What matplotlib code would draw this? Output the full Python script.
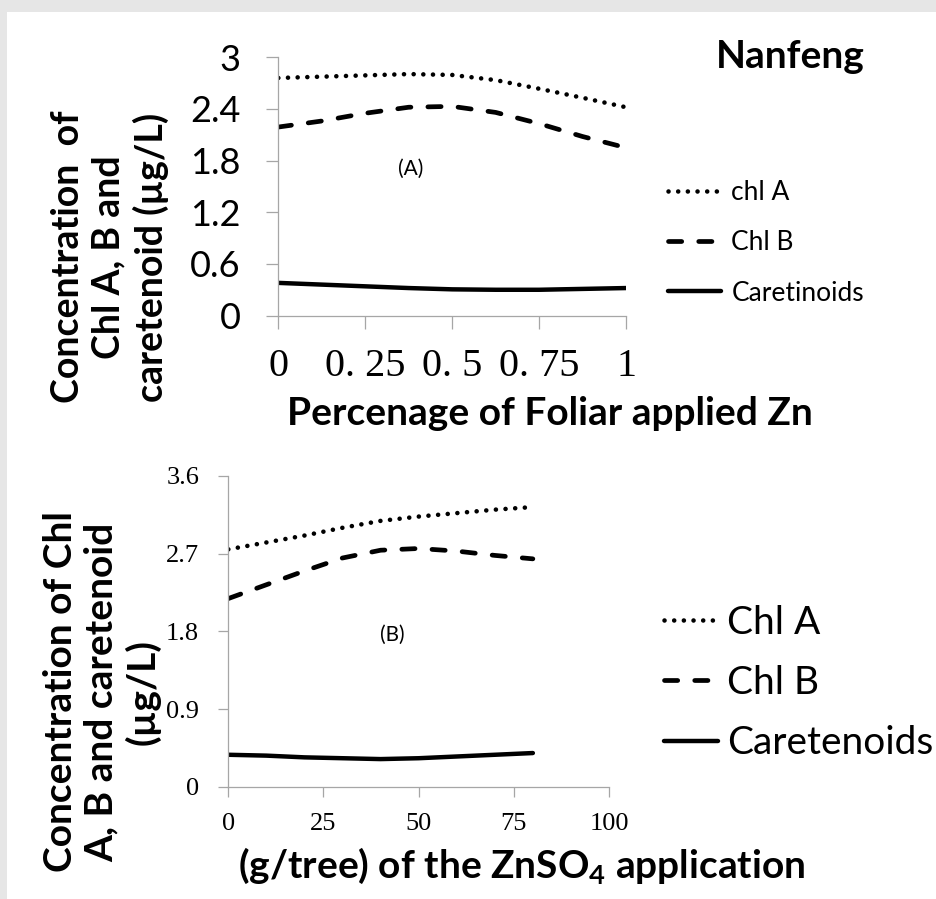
import matplotlib
matplotlib.use("Agg")
import matplotlib.pyplot as plt
from matplotlib.patches import Rectangle

plt.rcParams['font.family'] = ['Lato', 'DejaVu Sans']
plt.rcParams['mathtext.fontset'] = 'custom'
plt.rcParams['mathtext.rm'] = 'Lato'
plt.rcParams['mathtext.bf'] = 'Lato:bold'

# panel A: percentage of foliar applied Zn
pct_zn = [0, 0.125, 0.25, 0.375, 0.5, 0.625, 0.75, 0.875, 1]
chl_a_A = [2.76, 2.775, 2.79, 2.805, 2.795, 2.735, 2.635, 2.53, 2.42]
chl_b_A = [2.19, 2.26, 2.35, 2.42, 2.43, 2.36, 2.23, 2.08, 1.95]
car_A = [0.38, 0.36, 0.34, 0.32, 0.305, 0.30, 0.30, 0.31, 0.32]
ticks_A_x = [0, 0.25, 0.5, 0.75, 1]
ticklabels_A_x = ["0", "0. 25", "0. 5", "0. 75", "1"]
ticks_A_y = [0, 0.6, 1.2, 1.8, 2.4, 3]
ticklabels_A_y = ["0", "0.6", "1.2", "1.8", "2.4", "3"]
labels_A = ["chl A", "Chl B", "Caretinoids"]

# panel B: g/tree of ZnSO4
g_tree = [0, 10, 20, 30, 40, 50, 60, 70, 80]
chl_a_B = [2.75, 2.83, 2.91, 3.00, 3.08, 3.13, 3.17, 3.21, 3.24]
chl_b_B = [2.18, 2.34, 2.50, 2.65, 2.74, 2.76, 2.73, 2.68, 2.64]
car_B = [0.37, 0.36, 0.34, 0.33, 0.32, 0.33, 0.35, 0.37, 0.39]
ticks_B_x = [0, 25, 50, 75, 100]
ticks_B_y = [0, 0.9, 1.8, 2.7, 3.6]
labels_B = ["Chl A", "Chl B", "Caretenoids"]

W, H = 937, 899
fig = plt.figure(figsize=(W / 100, H / 100), dpi=100)
fig.patch.set_facecolor('#e6e6e6')
fig.patches.append(Rectangle((7 / W, 0), 1 - 7 / W, 1 - 12 / H, transform=fig.transFigure,
                             facecolor='white', edgecolor='none', zorder=-1))

dot = dict(color='black', lw=3.3, linestyle=(0, (0.01, 2.1)), dash_capstyle='round')
dash = dict(color='black', lw=3.4, linestyle=(0, (2.8, 3.6)), dash_capstyle='round')
solid = dict(color='black', lw=3.2, solid_capstyle='round')
serif = 'Liberation Serif'


def style_axes(ax):
    for s in ['top', 'right']:
        ax.spines[s].set_visible(False)
    for s in ['left', 'bottom']:
        ax.spines[s].set_color('#a6a6a6')
        ax.spines[s].set_linewidth(0.9)
    ax.tick_params(color='#a6a6a6', width=0.9, direction='out')


# ---- panel A
axA = fig.add_axes([278.3 / W, 1 - 315.6 / H, (626 - 278.3) / W, (315.6 - 57.3) / H])
la, = axA.plot(pct_zn, chl_a_A, **dot)
lb, = axA.plot(pct_zn, chl_b_A, **dash)
lc, = axA.plot(pct_zn, car_A, **solid)
axA.set_xlim(0, 1)
axA.set_ylim(0, 3)
style_axes(axA)
axA.tick_params(length=9)
axA.set_xticks(ticks_A_x)
axA.set_xticklabels(ticklabels_A_x, fontfamily=serif, fontsize=29)
axA.set_yticks(ticks_A_y)
axA.set_yticklabels(ticklabels_A_y, fontsize=26)
axA.tick_params(axis='x', pad=14)
axA.tick_params(axis='y', pad=18)
axA.text(0.38, 0.57, "(A)", transform=axA.transAxes, fontsize=15, ha='center', va='center')
axA.legend([la, lb, lc], labels_A, loc='center left', bbox_to_anchor=(668 / W, 1 - 243 / H),
           bbox_transform=fig.transFigure, frameon=False, fontsize=19, handlelength=2.0,
           handletextpad=0.4, labelspacing=0.95, borderpad=0, borderaxespad=0)

fig.text(790 / W, 1 - 57 / H, "Nanfeng", fontsize=28, fontweight='bold', ha='center', va='center')
fig.text(550 / W, 1 - 413 / H, "Percenage of Foliar applied Zn", fontsize=28, fontweight='bold',
         ha='center', va='center')
fig.text(110 / W, 1 - 257 / H, "Concentration  of\nChl A, B and\ncaretenoid (\u00b5g/L)", fontsize=27,
         fontweight='bold', rotation=90, ha='center', va='center', multialignment='center',
         linespacing=1.25)

# ---- panel B
axB = fig.add_axes([228.3 / W, 1 - 786.7 / H, (609 - 228.3) / W, (786.7 - 476) / H])
ma, = axB.plot(g_tree, chl_a_B, **dot)
mb, = axB.plot(g_tree, chl_b_B, **dash)
mc, = axB.plot(g_tree, car_B, **solid)
axB.set_xlim(0, 100)
axB.set_ylim(0, 3.6)
style_axes(axB)
axB.tick_params(length=7)
axB.set_xticks(ticks_B_x)
axB.set_xticklabels([str(t) for t in ticks_B_x], fontfamily=serif, fontsize=19)
axB.set_yticks(ticks_B_y)
axB.set_yticklabels([str(t) for t in ticks_B_y], fontfamily=serif, fontsize=19)
axB.tick_params(axis='x', pad=12)
axB.tick_params(axis='y', pad=14)
axB.text(0.43, 0.49, "(B)", transform=axB.transAxes, fontsize=15, ha='center', va='center')
axB.legend([ma, mb, mc], labels_B, loc='center left', bbox_to_anchor=(664 / W, 1 - 683 / H),
           bbox_transform=fig.transFigure, frameon=False, fontsize=28, handlelength=1.4,
           handletextpad=0.23, labelspacing=0.62, borderpad=0, borderaxespad=0)

fig.text(522 / W, 1 - 866 / H, r"(g/tree) of the ZnSO$_\mathbf{4}$ application", fontsize=28,
         fontweight='bold', ha='center', va='center')
fig.text(102 / W, 1 - 692 / H, "Concentration of Chl\nA, B and caretenoid\n(\u00b5g/L)", fontsize=28,
         fontweight='bold', rotation=90, ha='center', va='center', multialignment='center',
         linespacing=1.2)

fig.savefig("out.png", dpi=100)
